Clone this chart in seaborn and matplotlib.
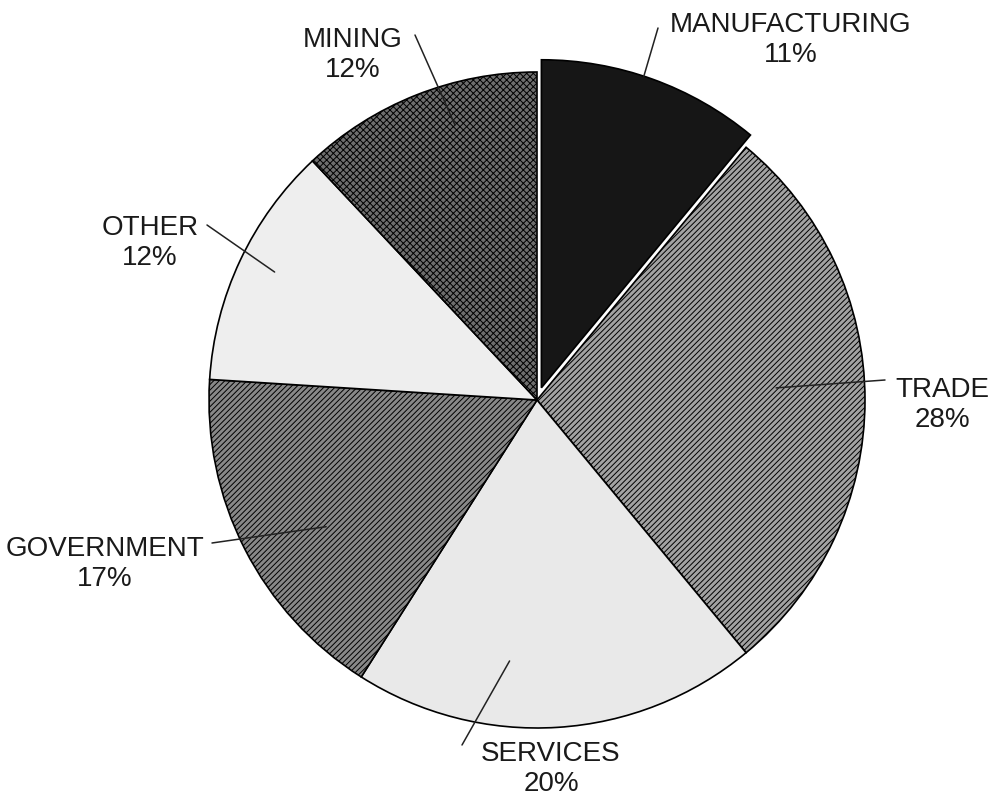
import matplotlib
matplotlib.use("Agg")
import matplotlib.pyplot as plt
import seaborn as sns
import numpy as np

# Data
sectors = ["MANUFACTURING", "TRADE", "SERVICES", "GOVERNMENT", "OTHER", "MINING"]
shares = [11, 28, 20, 17, 12, 12]

# Styles
fills = ["#161616", "#a2a2a2", "#e9e9e9", "#888888", "#eeeeee", "#6e6e6e"]
hatches = ["", "//////", "", "//////", "", "xxxxx"]
explode_px = [13, 0, 0, 0, 0, 0]

# label text centres (pixels, y down) and leader line outer ends
label_pos = [(791, 40), (942, 405), (551, 769), (105, 564), (150, 243), (353, 55)]
leader_out = [(658, 28), (885, 380), (462, 745), (212, 543), (207, 225), (415, 35)]
# leader inner ends: offset from mid-angle (deg) and radius fraction
leader_dang = [1.6, 2.9, -9.6, 4.0, -0.8, -5.0]
leader_rfrac = [1.0, 0.73, 0.80, 0.75, 0.89, 0.875]

sns.set_style("white")
plt.rcParams['font.family'] = ['Liberation Sans', 'DejaVu Sans']
plt.rcParams['hatch.linewidth'] = 0.7

W, H = 1000, 800
cx, cy, R = 537, 400, 328

fig = plt.figure(figsize=(10, 8), dpi=100)
ax = fig.add_axes([0, 0, 1, 1])

wedges, _ = ax.pie(shares, center=(cx, H - cy), radius=R, startangle=90,
                   counterclock=False, explode=explode_px, colors=fills,
                   hatch=hatches,
                   wedgeprops=dict(edgecolor="black", linewidth=1.2))

for w, lab, sh, pos, out, da, rf in zip(wedges, sectors, shares, label_pos,
                                         leader_out, leader_dang, leader_rfrac):
    mid = np.deg2rad((w.theta1 + w.theta2) / 2 + da)
    xc, yc = w.center
    inner = (xc + rf * R * np.cos(mid), yc + rf * R * np.sin(mid))
    ax.annotate("", xy=inner, xytext=(out[0], H - out[1]),
                arrowprops=dict(arrowstyle="-", color="#222222", lw=1.1,
                                shrinkA=0, shrinkB=0))
    ax.text(pos[0], H - pos[1], f"{lab}\n{sh}%", ha="center", va="center",
            multialignment="center", fontsize=20, color="#1a1a1a",
            linespacing=1.2)

ax.set_xlim(0, W)
ax.set_ylim(0, H)
ax.set_aspect("equal")
ax.axis("off")

fig.savefig("out.png", dpi=100, facecolor="white")
